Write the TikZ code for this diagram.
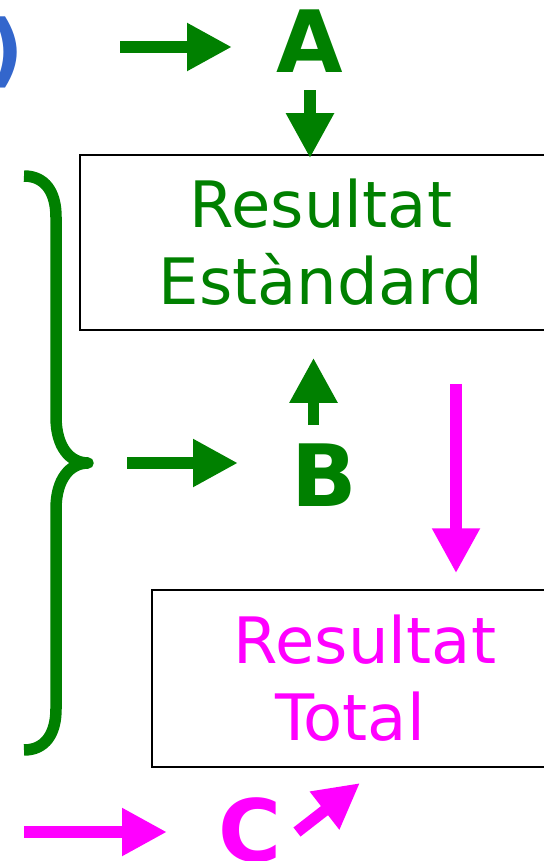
\documentclass[tikz,border=0pt]{standalone}
\usepackage{fontspec}
\setmainfont{DejaVu Sans}
\usetikzlibrary{arrows.meta,calc}
\definecolor{resgreen}{RGB}{0,128,0}
\definecolor{resmagenta}{RGB}{255,0,255}
\definecolor{resblue}{RGB}{51,102,204}
\tikzset{
  fatarrow/.style={line width=11.5pt, -{Triangle[length=45pt,width=45pt]}},
  resbox/.style={draw=black, line width=1.5pt, align=center, inner sep=0pt}
}

\begin{document}
\begin{tikzpicture}[x=1pt,y=-1pt]

  % --- styles ---
  \tikzset{
    bigletter/.style={font=\fontsize{86}{100}\selectfont\bfseries, inner sep=0pt, anchor=base},
    boxtext/.style={font=\fontsize{64}{77}\selectfont},
  }

  % --- page ---
  \useasboundingbox (0,0) rectangle (543,861);

  % =========================
  %  BOXES
  % =========================

  \node[resbox, boxtext, text=resgreen, minimum width=482pt, minimum height=175pt]
    (stdbox) at (321,242.5) {Resultat\\Estàndard};
  \node[resbox, boxtext, text=resmagenta, minimum width=426pt, minimum height=177pt]
    (totbox) at (365,678.5) {Resultat\\Total\hspace*{30pt}};

  % =========================
  %  LETTERS
  % =========================

  \node[bigletter, text=resgreen]   (A) at (310,73)    {A};
  \node[bigletter, text=resgreen]   (B) at (324.5,506) {B};
  \node[bigletter, text=resmagenta] (C) at (250.5,861) {C};
  \node[font=\fontsize{80}{100}\selectfont\bfseries, text=resblue, inner sep=0pt, anchor=base east]
    (paren) at (24,78) {)};

  % =========================
  %  BRACE
  % =========================

  \coordinate (bracetip) at (88,463);
  \draw[resgreen, line width=11.5pt, line join=round]
    (24,176) .. controls (45,176) and (56,192) .. (56,217)
    -- (56,417) .. controls (56,447) and (70,463) .. (bracetip)
    .. controls (70,463) and (56,479) .. (56,509)
    -- (56,709) .. controls (56,734) and (45,750) .. (24,750);

  % =========================
  %  ARROWS
  % =========================

  \coordinate (ain)  at (120,47);
  \coordinate (aout) at (232,47);
  \draw[fatarrow, resgreen] (ain) -- (aout);
  \draw[fatarrow, resgreen, shorten <=17pt, shorten >=-4pt] (A.south) -- (A.south |- stdbox.north);

  \coordinate (bup) at ([xshift=-11pt,yshift=18pt]B.north);
  \draw[fatarrow, resgreen, shorten >=27pt] (bup) -- (bup |- stdbox.south);
  \draw[fatarrow, resgreen, shorten <=39pt] (bracetip) -- ([xshift=150pt]bracetip);

  \coordinate (mdown) at ([xshift=135pt]stdbox.south);
  \draw[fatarrow, resmagenta, shorten <=53pt, shorten >=16pt] (mdown) -- (mdown |- totbox.north);

  \coordinate (cin)  at (24,832);
  \coordinate (cout) at (167,832);
  \draw[fatarrow, resmagenta] (cin) -- (cout);
  \coordinate (cup)  at (297,832);
  \coordinate (ctip) at (360,783);
  \draw[fatarrow, resmagenta] (cup) -- (ctip);

\end{tikzpicture}
\end{document}
